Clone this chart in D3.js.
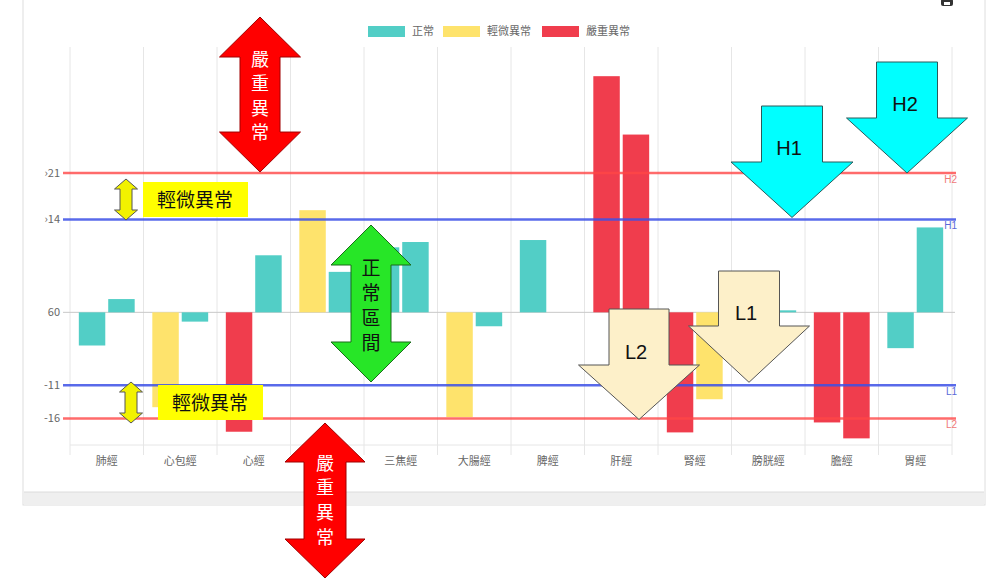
<!DOCTYPE html>
<html>
<head>
<meta charset="utf-8">
<title>經絡檢測</title>
<style>
body {
  margin: 0px;
  background: #fff;
}
svg {
  display: block;
  font-family: "Noto Sans CJK TC", "Noto Sans", sans-serif;
}
.tick-label, .cat-label, .legend-label {
  fill: #666;
  font-size: 11px;
}
.grid {
  stroke: #e6e6e6;
  stroke-width: 1;
}
</style>
<script src="https://d3js.org/d3.v7.min.js"></script>
</head>
<body>
<script>

// meridian categories (x axis)
var meridians = ["肺經", "心包經", "心經", "小腸經", "三焦經", "大腸經", "脾經", "肝經", "腎經", "膀胱經", "膽經", "胃經"];
// two readings per meridian
var leftValues  = [-5.0, -14.3, -18.0, 15.4, 9.8, -15.8, 10.9, 35.6, -18.1, 1.0, -16.6, -5.4];
var rightValues = [2.0, -1.4, 8.6, 6.1, 10.6, -2.1, 0, 26.8, -13.1, 0.3, -19.0, 12.8];
// reference lines
var limitNames  = ["H2", "H1", "L1", "L2"];
var limitValues = [21, 14, -11, -16];
// y ticks as printed on the chart
var yTickValues = [21, 14, 0, -11, -16];
var yTickLabels = ["\u203a21", "\u203a14", "60", "-11", "-16"];
// legend
var legendLabels = ["正常", "輕微異常", "嚴重異常"];

var width = 1000, height = 580;
var colors = ["#52cec6", "#fee36c", "#f03d4d"];

var svg = d3.select("body").append("svg")
    .attr("width", width)
    .attr("height", height);

// card frame around the chart
svg.append("rect")
    .attr("x", 23).attr("y", -2)
    .attr("width", 962).attr("height", 507)
    .attr("fill", "#fff")
    .attr("stroke", "#dedede");
svg.append("rect")
    .attr("x", 24).attr("y", 492)
    .attr("width", 960).attr("height", 13)
    .attr("fill", "#efefef");
svg.append("line")
    .attr("x1", 24).attr("x2", 984)
    .attr("y1", 492).attr("y2", 492)
    .attr("stroke", "#dcdcdc");

// small printer icon top right
var icon = svg.append("g").attr("transform", "translate(941,-1)");
icon.append("rect").attr("width", 12).attr("height", 7).attr("rx", 2).attr("fill", "#333");
icon.append("rect").attr("x", 3).attr("y", 3).attr("width", 6).attr("height", 3).attr("fill", "#fff");

// scales
var x0 = d3.scaleBand()
    .domain(meridians)
    .range([70, 952]);
var bw = x0.bandwidth();
var x1 = d3.scaleBand()
    .domain([0, 1])
    .range([bw * 0.1, bw * 0.9])
    .paddingInner(0.1)
    .paddingOuter(0.05);
var y = d3.scaleLinear()
    .domain([-20, 40])
    .range([445, 47]);

function level(v) {
  if (v > 21 || v < -16) return 2;
  if (v > 14 || v < -11) return 1;
  return 0;
}

// vertical grid lines at category edges
var edges = meridians.map(function(d) { return x0(d); }).concat([x0.range()[1]]);
svg.append("g").selectAll("line")
    .data(edges)
  .enter().append("line")
    .attr("class", "grid")
    .attr("x1", function(d) { return d; })
    .attr("x2", function(d) { return d; })
    .attr("y1", y(40))
    .attr("y2", y(-20) + 10);

// bottom axis line and zero line
svg.append("line")
    .attr("x1", 70).attr("x2", 952)
    .attr("y1", y(-20)).attr("y2", y(-20))
    .attr("stroke", "#e6e6e6");
svg.append("line")
    .attr("x1", 63).attr("x2", 955)
    .attr("y1", y(0)).attr("y2", y(0))
    .attr("stroke", "#c8c8c8");

// y tick labels
svg.append("g").selectAll("text")
    .data(yTickValues)
  .enter().append("text")
    .attr("class", "tick-label")
    .attr("x", 60)
    .attr("y", function(d) { return y(d); })
    .attr("dy", "0.35em")
    .attr("text-anchor", "end")
    .text(function(d, i) { return yTickLabels[i]; });

// x labels (小腸經 sits under the red arrow, as in the screenshot)
svg.append("g").selectAll("text")
    .data(meridians)
  .enter().append("text")
    .attr("class", "cat-label")
    .attr("x", function(d) { return x0(d) + bw / 2; })
    .attr("y", 465)
    .attr("text-anchor", "middle")
    .text(function(d) { return d; });

// bars
var rows = meridians.map(function(m, i) {
  return { name: m, vals: [leftValues[i], rightValues[i]] };
});
var groups = svg.append("g").selectAll("g")
    .data(rows)
  .enter().append("g")
    .attr("transform", function(d) { return "translate(" + x0(d.name) + ",0)"; });
groups.selectAll("rect")
    .data(function(d) { return d.vals.map(function(v, k) { return { k: k, v: v }; }); })
  .enter().append("rect")
    .attr("x", function(d) { return x1(d.k); })
    .attr("width", x1.bandwidth())
    .attr("y", function(d) { return y(Math.max(0, d.v)); })
    .attr("height", function(d) { return Math.abs(y(d.v) - y(0)); })
    .attr("fill", function(d) { return colors[level(d.v)]; });

// limit lines
var limitColors = ["rgba(255,70,70,0.8)", "rgba(60,80,230,0.85)", "rgba(60,80,230,0.85)", "rgba(255,70,70,0.8)"];
var labelColors = ["#f07878", "#5a6ad8", "#5a6ad8", "#f07878"];
var limits = svg.append("g").selectAll("g")
    .data(limitValues)
  .enter().append("g");
limits.append("line")
    .attr("x1", 63).attr("x2", 956)
    .attr("y1", function(d) { return y(d); })
    .attr("y2", function(d) { return y(d); })
    .attr("stroke", function(d, i) { return limitColors[i]; })
    .attr("stroke-width", 2.5);
limits.append("text")
    .attr("x", 957)
    .attr("y", function(d) { return y(d) + 10; })
    .attr("text-anchor", "end")
    .attr("font-family", "Liberation Sans, sans-serif")
    .attr("font-size", 10)
    .attr("fill", function(d, i) { return labelColors[i]; })
    .text(function(d, i) { return limitNames[i]; });

// legend
var legendX = [368, 443, 542];
var legend = svg.append("g").selectAll("g")
    .data(legendLabels)
  .enter().append("g")
    .attr("transform", function(d, i) { return "translate(" + legendX[i] + ",26)"; });
legend.append("rect")
    .attr("width", 37).attr("height", 11)
    .attr("fill", function(d, i) { return colors[i]; });
legend.append("text")
    .attr("class", "legend-label")
    .attr("x", 44).attr("y", 5.5)
    .attr("dy", "0.35em")
    .text(function(d) { return d; });

// ---- annotations drawn on top ----
function doubleArrow(cx, top, bottom, headW, shaftW, headH) {
  var hw = headW / 2, sw = shaftW / 2;
  return "M" + cx + "," + top +
    "L" + (cx + hw) + "," + (top + headH) +
    "L" + (cx + sw) + "," + (top + headH) +
    "L" + (cx + sw) + "," + (bottom - headH) +
    "L" + (cx + hw) + "," + (bottom - headH) +
    "L" + cx + "," + bottom +
    "L" + (cx - hw) + "," + (bottom - headH) +
    "L" + (cx - sw) + "," + (bottom - headH) +
    "L" + (cx - sw) + "," + (top + headH) +
    "L" + (cx - hw) + "," + (top + headH) + "Z";
}
function downArrow(cx, top, headTop, tip, bodyW, headW) {
  var hw = headW / 2, bw2 = bodyW / 2;
  return "M" + (cx - bw2) + "," + top +
    "L" + (cx + bw2) + "," + top +
    "L" + (cx + bw2) + "," + headTop +
    "L" + (cx + hw) + "," + headTop +
    "L" + cx + "," + tip +
    "L" + (cx - hw) + "," + headTop +
    "L" + (cx - bw2) + "," + headTop + "Z";
}
function verticalText(g, cx, ys, chars, color, size) {
  g.selectAll(null)
      .data(chars)
    .enter().append("text")
      .attr("x", cx)
      .attr("y", function(d, i) { return ys[i]; })
      .attr("dy", "0.36em")
      .attr("text-anchor", "middle")
      .attr("font-size", size)
      .attr("fill", color)
      .text(function(d) { return d; });
}

var notes = svg.append("g");

// cream L arrows
notes.append("path")
    .attr("d", downArrow(639, 309, 365, y(-16) + 1, 60, 121))
    .attr("fill", "#fdf0c9").attr("stroke", "#555").attr("stroke-width", 1);
notes.append("text").attr("x", 636).attr("y", 359)
    .attr("text-anchor", "middle").attr("font-family", "Liberation Sans, sans-serif")
    .attr("font-size", 20).attr("fill", "#111").text("L2");
notes.append("path")
    .attr("d", downArrow(749, 271, 326, y(-11) - 3, 61, 121))
    .attr("fill", "#fdf0c9").attr("stroke", "#555").attr("stroke-width", 1);
notes.append("text").attr("x", 746).attr("y", 320)
    .attr("text-anchor", "middle").attr("font-family", "Liberation Sans, sans-serif")
    .attr("font-size", 20).attr("fill", "#111").text("L1");

// cyan H arrows
notes.append("path")
    .attr("d", downArrow(792, 106, 162, y(14) - 2, 61, 122))
    .attr("fill", "#00ffff").attr("stroke", "#2a5a5a").attr("stroke-width", 1);
notes.append("text").attr("x", 789).attr("y", 155)
    .attr("text-anchor", "middle").attr("font-family", "Liberation Sans, sans-serif")
    .attr("font-size", 20).attr("fill", "#111").text("H1");
notes.append("path")
    .attr("d", downArrow(907, 62, 118, y(21), 61, 121))
    .attr("fill", "#00ffff").attr("stroke", "#2a5a5a").attr("stroke-width", 1);
notes.append("text").attr("x", 905).attr("y", 111)
    .attr("text-anchor", "middle").attr("font-family", "Liberation Sans, sans-serif")
    .attr("font-size", 20).attr("fill", "#111").text("H2");

// red "severe" arrows
notes.append("path")
    .attr("d", doubleArrow(260, 17, y(21) - 1, 81, 40, 40))
    .attr("fill", "#ff0000").attr("stroke", "#a00000").attr("stroke-width", 1);
verticalText(notes, 260, [60, 84, 109, 133], ["嚴", "重", "異", "常"], "#fff", 18);
notes.append("path")
    .attr("d", doubleArrow(325, 423, 578, 80, 42, 39))
    .attr("fill", "#ff0000").attr("stroke", "#a00000").attr("stroke-width", 1);
verticalText(notes, 325, [464, 488, 513, 538], ["嚴", "重", "異", "常"], "#fff", 18);

// green "normal" arrow
notes.append("path")
    .attr("d", doubleArrow(371, 225, 382, 80, 40, 40))
    .attr("fill", "#27e627").attr("stroke", "#1b6b1b").attr("stroke-width", 1);
verticalText(notes, 371, [268, 293, 318, 343], ["正", "常", "區", "間"], "#111", 19);

// yellow "mild" markers
notes.append("path")
    .attr("d", doubleArrow(126, 179, 220, 23, 12, 10))
    .attr("fill", "#f2f200").attr("stroke", "#555").attr("stroke-width", 1);
notes.append("path")
    .attr("d", doubleArrow(131, 382, 423, 23, 12, 10))
    .attr("fill", "#f2f200").attr("stroke", "#555").attr("stroke-width", 1);
notes.append("rect").attr("x", 143).attr("y", 182).attr("width", 105).attr("height", 35)
    .attr("fill", "#ffff00");
notes.append("text").attr("x", 195).attr("y", 200).attr("dy", "0.36em")
    .attr("text-anchor", "middle").attr("font-size", 19)
    .attr("fill", "#111").text("輕微異常");
notes.append("rect").attr("x", 158).attr("y", 385).attr("width", 105).attr("height", 35)
    .attr("fill", "#ffff00");
notes.append("text").attr("x", 210).attr("y", 403).attr("dy", "0.36em")
    .attr("text-anchor", "middle").attr("font-size", 19)
    .attr("fill", "#111").text("輕微異常");

</script>
</body>
</html>
